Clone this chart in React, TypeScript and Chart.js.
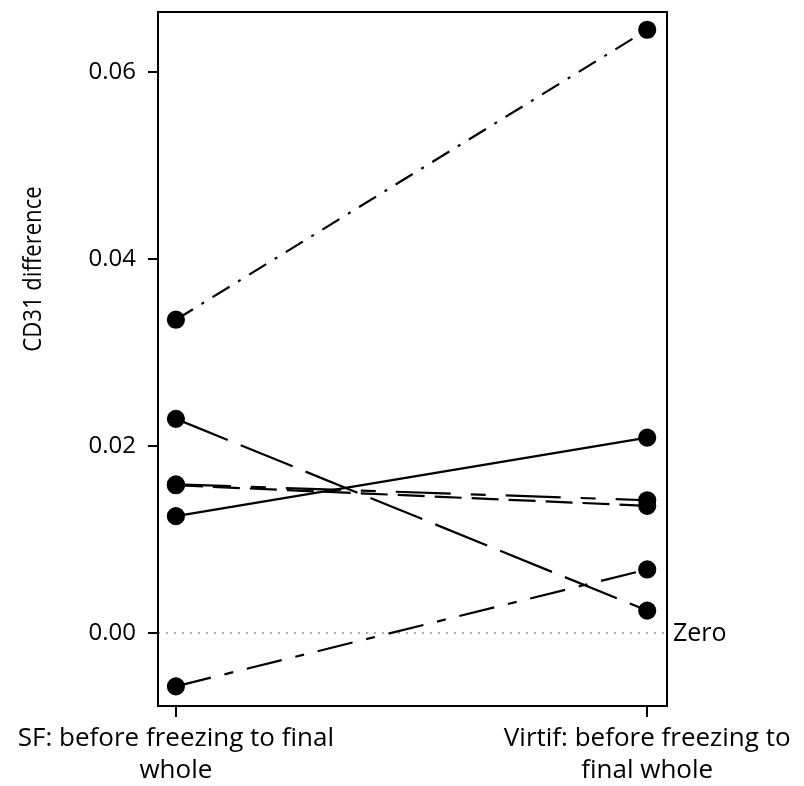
import React, { useEffect, useRef } from "react";
import { Chart, registerables } from "chart.js";

Chart.register(...registerables);

const categories = [
  ["SF: before freezing to final", "whole"],
  ["Virtif: before freezing to", "final whole"],
];
const yTicks = [0.0, 0.02, 0.04, 0.06];
const seriesA = [0.0335, 0.0645]; // dash-dot
const seriesB = [0.0229, 0.0024]; // long dash
const seriesC = [0.0125, 0.0209]; // solid
const seriesD = [0.0159, 0.0142]; // long-short dash
const seriesE = [0.0158, 0.0136]; // dash
const seriesF = [-0.0057, 0.0068]; // long dash - short dash
const zeroLabel = "Zero";
const yTitle = "CD31 difference";

const FONT = "'Open Sans', 'DejaVu Sans', sans-serif";

export default function App() {
  const ref = useRef<HTMLCanvasElement>(null);
  useEffect(() => {
    const mk = (vals: number[], dash: number[]) => ({
      data: vals.map((v, i) => ({ x: i, y: v })),
      borderColor: "#000",
      backgroundColor: "#000",
      borderWidth: 2.2,
      borderDash: dash,
      pointRadius: 8,
      pointHoverRadius: 8,
      pointBackgroundColor: "#000",
      pointBorderColor: "#000",
      showLine: true,
      fill: false,
    });
    const frame = {
      id: "frame",
      beforeDraw(chart: any) {
        const { ctx, chartArea: a, scales } = chart;
        const y0 = scales.y.getPixelForValue(0);
        ctx.save();
        ctx.strokeStyle = "#999";
        ctx.lineWidth = 1.5;
        ctx.setLineDash([2, 6]);
        ctx.beginPath();
        ctx.moveTo(a.left, y0);
        ctx.lineTo(a.right, y0);
        ctx.stroke();
        ctx.restore();
      },
      afterDraw(chart: any) {
        const { ctx, chartArea: a, scales } = chart;
        ctx.save();
        ctx.strokeStyle = "#000";
        ctx.lineWidth = 2;
        ctx.strokeRect(a.left, a.top, a.right - a.left, a.bottom - a.top);
        const y0 = scales.y.getPixelForValue(0);
        ctx.fillStyle = "#000";
        ctx.font = `25px ${FONT}`;
        ctx.textBaseline = "middle";
        ctx.textAlign = "left";
        ctx.fillText(zeroLabel, a.right + 6, y0 + 1);
        // y title (condensed)
        ctx.font = `26px ${FONT}`;
        ctx.translate(34, 269);
        ctx.rotate(-Math.PI / 2);
        ctx.scale(0.85, 1);
        ctx.textAlign = "center";
        ctx.fillText(yTitle, 0, 0);
        ctx.restore();
      },
    };
    const chart = new Chart(ref.current!, {
      type: "scatter",
      data: {
        datasets: [
          mk(seriesA, [20, 10, 3, 10]),
          mk(seriesB, [56, 14]),
          mk(seriesC, []),
          mk(seriesD, [55, 20, 15, 20]),
          mk(seriesE, [27, 10]),
          mk(seriesF, [36, 14, 9, 14]),
        ] as any,
      },
      options: {
        responsive: false,
        animation: false,
        events: [],
        layout: { padding: { top: 12, right: 137, left: 0, bottom: 0 } },
        plugins: { legend: { display: false }, tooltip: { enabled: false } },
        scales: {
          x: {
            type: "linear",
            min: -0.038,
            max: 1.042,
            afterBuildTicks: (s: any) => {
              s.ticks = [{ value: 0 }, { value: 1 }];
            },
            afterFit: (s: any) => {
              s.height = 80;
              s.paddingLeft = 0;
              s.paddingRight = 0;
            },
            border: { display: false },
            grid: {
              drawOnChartArea: false,
              drawTicks: true,
              tickLength: 11,
              color: "#000",
              lineWidth: 2,
            },
            ticks: {
              autoSkip: false,
              maxRotation: 0,
              color: "#000",
              padding: 5,
              font: { family: FONT, size: 26, lineHeight: 1.25 },
              callback: (v: any) => categories[Math.round(Number(v))] as any,
            },
          },
          y: {
            type: "linear",
            min: -0.0078,
            max: 0.0664,
            afterBuildTicks: (s: any) => {
              s.ticks = yTicks.map((v) => ({ value: v }));
            },
            afterFit: (s: any) => {
              s.width = 158;
              s.paddingTop = 0;
              s.paddingBottom = 0;
            },
            border: { display: false },
            grid: {
              drawOnChartArea: false,
              drawTicks: true,
              tickLength: 10,
              color: "#000",
              lineWidth: 2,
            },
            ticks: {
              color: "#000",
              padding: 12,
              font: { family: FONT, size: 24 },
              callback: (v: any) => Number(v).toFixed(2),
            },
          },
        },
      },
      plugins: [frame],
    });
    return () => chart.destroy();
  }, []);
  return (
    <div style={{ position: "absolute", left: 0, top: 0, width: 804, height: 786 }}>
      <canvas ref={ref} width={804} height={786} />
    </div>
  );
}
